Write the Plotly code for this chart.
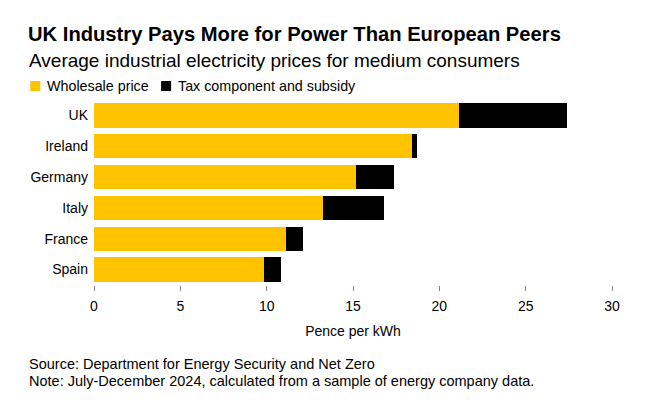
import plotly.graph_objects as go

# pence per kWh, Jul-Dec 2024
countries = ["UK", "Ireland", "Germany", "Italy", "France", "Spain"]
wholesale = [21.14, 18.40, 15.15, 13.24, 11.10, 9.86]
tax_subsidy = [6.27, 0.33, 2.23, 3.56, 0.98, 0.97]
x_ticks = [0, 5, 10, 15, 20, 25, 30]
series_names = ["Wholesale price", "Tax component and subsidy"]

FONT = "Liberation Sans"
YELLOW = "#FFC300"
BLACK = "#000000"

fig = go.Figure()
fig.add_trace(go.Bar(y=countries, x=wholesale, orientation="h", name=series_names[0],
                     marker=dict(color=YELLOW, line=dict(width=0))))
fig.add_trace(go.Bar(y=countries, x=tax_subsidy, orientation="h", name=series_names[1],
                     marker=dict(color=BLACK, line=dict(width=0))))

# page has an 8px body margin, so the figure is drawn 8px in from the window corner
OFF = 8
W, H = 656 - OFF, 407 - OFF
# plot area edges as seen in the window
L, R, T, B = 93.8, 612.5, 100, 285


def px(x):
    return (x - L) / (R - L)


def py(y):
    return (B - y) / (B - T)


fig.update_layout(
    width=W, height=H,
    barmode="stack", bargap=0.21,
    plot_bgcolor="white", paper_bgcolor="white",
    margin=dict(l=L - OFF, r=W - (R - OFF), t=T - OFF, b=H - (B - OFF), pad=0),
    font=dict(family=FONT, size=14, color=BLACK),
    title=dict(text="<b>UK Industry Pays More for Power Than European Peers</b>",
               font=dict(size=20.2, color=BLACK),
               xref="container", x=(28 - OFF) / W, xanchor="left",
               yref="container", y=1 - (33.5 - OFF) / H, yanchor="middle"),
    showlegend=False,
    xaxis=dict(range=[0, 30], tickvals=x_ticks, showgrid=False, zeroline=False,
               showline=False, ticks="outside", ticklen=5, tickcolor="#888888",
               tickfont=dict(size=14), ticklabelstandoff=3,
               title=dict(text="Pence per kWh", font=dict(size=14), standoff=13)),
    yaxis=dict(autorange="reversed", showgrid=False, zeroline=False, showline=False,
               ticks="", tickfont=dict(size=14), ticklabelstandoff=5),
)

fig.add_annotation(text="Average industrial electricity prices for medium consumers",
                   xref="paper", yref="paper", x=px(27), y=py(60), xanchor="left",
                   yanchor="middle", showarrow=False, font=dict(size=19, color=BLACK))

# legend: small squares with labels
legend_x = [(30, 44.5), (161, 175.5)]
for (sq_x, txt_x), name, col in zip(legend_x, series_names, [YELLOW, BLACK]):
    fig.add_shape(type="rect", xref="paper", yref="paper",
                  x0=px(sq_x), x1=px(sq_x + 10), y0=py(91), y1=py(81),
                  fillcolor=col, line=dict(width=0))
    fig.add_annotation(text=name, xref="paper", yref="paper", x=px(txt_x), y=py(86),
                       xanchor="left", yanchor="middle", showarrow=False,
                       font=dict(size=14.3, color=BLACK))

fig.add_annotation(text="Source: Department for Energy Security and Net Zero",
                   xref="paper", yref="paper", x=px(27), y=py(364), xanchor="left",
                   yanchor="middle", showarrow=False, font=dict(size=14.5, color=BLACK))
fig.add_annotation(text="Note: July-December 2024, calculated from a sample of energy company data.",
                   xref="paper", yref="paper", x=px(27), y=py(381), xanchor="left",
                   yanchor="middle", showarrow=False, font=dict(size=14.5, color=BLACK))

fig.write_html("out.html")
